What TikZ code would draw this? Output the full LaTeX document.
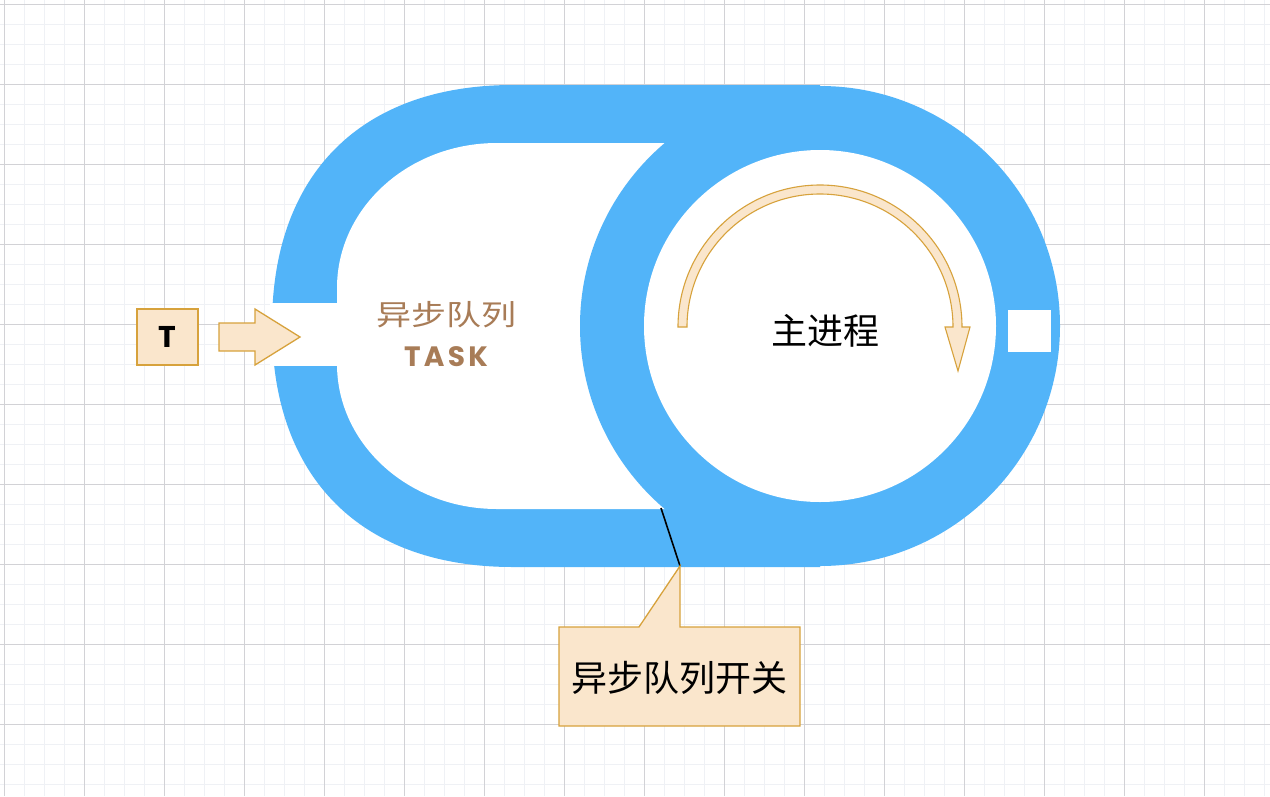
\documentclass[tikz,border=0pt]{standalone}
\usepackage{fontspec}
\newfontfamily\cjk{Noto Sans CJK SC}
\newfontfamily\latinfont{Poppins}
\definecolor{ringblue}{HTML}{52B4F9}
\definecolor{boxfill}{HTML}{FAE6CC}
\definecolor{boxdraw}{HTML}{D7A23C}
\definecolor{taskbrown}{HTML}{A87C57}
\definecolor{gridminor}{HTML}{EFF1F5}
\definecolor{gridmajor}{HTML}{D2D2D6}
\tikzset{
  orangebox/.style={fill=boxfill, draw=boxdraw, line width=1.3pt},
  minorline/.style={draw=gridminor, line width=1pt},
  majorline/.style={draw=gridmajor, line width=1pt},
  cjktext/.style={font=\cjk\fontsize{36}{40}\selectfont, inner sep=0pt},
}
\begin{document}
\begin{tikzpicture}[x=1pt,y=-1pt]
\useasboundingbox (0,0) rectangle (1270,796);
\fill[white] (0,0) rectangle (1270,796);
% grid
\foreach \x in {4,24,...,1264} \draw[minorline] (\x,0) -- (\x,796);
\foreach \y in {4,24,...,784} \draw[minorline] (0,\y) -- (1270,\y);
\foreach \x in {4,84,...,1244} \draw[majorline] (\x,0) -- (\x,796);
\foreach \y in {4,84,...,724} \draw[majorline] (0,\y) -- (1270,\y);
% outer track
\fill[ringblue] (272,326) .. controls (272,174) and (361,85) .. (513,85) -- (820,85)
  -- (820,567) -- (513,567) .. controls (361,567) and (272,478) .. (272,326) -- cycle;
% inner queue area
\fill[white] (337,288) arc[start angle=180, end angle=270, x radius=160, y radius=145]
  -- (819,143) -- (819,509) -- (497,509)
  arc[start angle=90, end angle=180, x radius=160, y radius=145] -- cycle;
% main process ring
\fill[ringblue] (820,326) circle[radius=240];
\fill[white] (820,326) circle[radius=176];
% gaps
\fill[white] (270,303) rectangle (342,366);
\fill[white] (1008,310) rectangle (1051,352);
% curved arrow
\path[orangebox, line width=1.1pt] (678,327) arc[start angle=180, end angle=360, radius=142]
  -- (970,327) -- (958,371) -- (945,327) -- (953,327)
  arc[start angle=360, end angle=180, radius=133] -- cycle;
\node[cjktext] (main) at (825,331) {主进程};
% queue label
\node[font=\cjk\fontsize{35}{38}\selectfont, text=taskbrown, inner sep=0pt] (queue) at (446,315) {\scalebox{1}[0.82]{异步队列}};
\node[font=\latinfont\bfseries\fontsize{28}{30}\selectfont, text=taskbrown, inner sep=0pt] (task) at (446,357) {\addfontfeatures{LetterSpace=12}TASK};
% T box and input arrow
\node[orangebox, minimum width=61pt, minimum height=56pt, inner sep=0pt, font=\latinfont\bfseries\fontsize{30}{32}\selectfont] (T) at (167.5,337) {T};
\path[orangebox] (219,323) -- (255,323) -- (255,309) -- (300,337) -- (255,365) -- (255,351) -- (219,351) -- cycle;
% switch line
\coordinate (swa) at (661,508);
\coordinate (swb) at (680,566);
\draw[black, line width=1.6pt] (swa) -- (swb);
% callout
\path[orangebox] (559,627) -- (639,627) -- (swb) -- (680,627) -- (800,627) -- (800,726) -- (559,726) -- cycle;
\node[cjktext] (switch) at (679.5,678) {异步队列开关};
\end{tikzpicture}
\end{document}
